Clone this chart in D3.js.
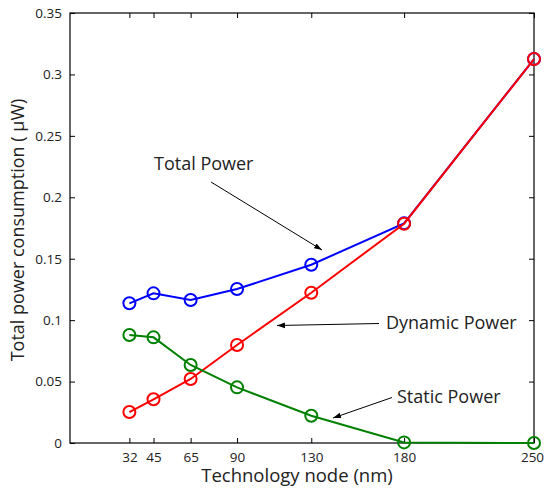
<!DOCTYPE html>
<html><head><meta charset="utf-8">
<script src="https://cdn.jsdelivr.net/npm/d3@7"></script>
<style>body{margin:0;background:#fff}svg{display:block}text{font-family:"Open Sans",sans-serif;fill:#222}</style>
</head><body><svg id="c" width="544" height="490"></svg>
<script>
const nodes = [32, 45, 65, 90, 130, 180, 250];
const totalPower = [0.1137, 0.1218, 0.1164, 0.1253, 0.1451, 0.1788, 0.3125];
const dynamicPower = [0.0252, 0.0356, 0.0521, 0.0798, 0.1223, 0.1785, 0.3125];
const staticPower = [0.0879, 0.0860, 0.0635, 0.0453, 0.0222, 0.0005, 0.0000];
const yTicks = [0, 0.05, 0.1, 0.15, 0.2, 0.25, 0.3, 0.35];
const yTickLabels = ["0", "0.05", "0.1", "0.15", "0.2", "0.25", "0.3", "0.35"];
const seriesNames = ["Total Power", "Dynamic Power", "Static Power"];
const annotations = [
  {text: "Total Power", tx: 154, ty: 170, x1: 211, y1: 182, x2: 322, y2: 250},
  {text: "Dynamic Power", tx: 386, ty: 329, x1: 379, y1: 323.5, x2: 277, y2: 325.5},
  {text: "Static Power", tx: 397, ty: 403, x1: 392, y1: 397.5, x2: 333, y2: 418}
];

const svg = d3.select("#c");
const L = 70, R = 534, T = 13, B = 443;
const x = d3.scaleLinear().domain([0, 250]).range([L, R]);
const y = d3.scaleLinear().domain([0, 0.35]).range([B, T]);

svg.append("defs").append("marker").attr("id", "ah")
  .attr("viewBox", "0 0 10 10").attr("refX", 10).attr("refY", 5)
  .attr("markerWidth", 8).attr("markerHeight", 8).attr("markerUnits", "userSpaceOnUse")
  .attr("orient", "auto")
  .append("path").attr("d", "M0,1.5L10,5L0,8.5Z").attr("fill", "#000");

// box
svg.append("rect").attr("x", L).attr("y", T).attr("width", R - L).attr("height", B - T)
  .attr("fill", "none").attr("stroke", "#000").attr("stroke-width", 1.2);

const tl = 5;
const xb = d3.axisBottom(x).tickValues(nodes).tickSizeInner(-tl).tickSizeOuter(0).tickPadding(9);
const gx = svg.append("g").attr("transform", `translate(0,${B})`).call(xb);
const xt = d3.axisTop(x).tickValues(nodes).tickSizeInner(-tl).tickSizeOuter(0).tickFormat("");
const gxt = svg.append("g").attr("transform", `translate(0,${T})`).call(xt);
const yl = d3.axisLeft(y).tickValues(yTicks).tickFormat((d, i) => yTickLabels[i]).tickSizeInner(-tl).tickSizeOuter(0).tickPadding(8);
const gy = svg.append("g").attr("transform", `translate(${L},0)`).call(yl);
const yr = d3.axisRight(y).tickValues(yTicks).tickSizeInner(-tl).tickSizeOuter(0).tickFormat("");
const gyr = svg.append("g").attr("transform", `translate(${R},0)`).call(yr);
[gx, gxt, gy, gyr].forEach(g => {
  g.select(".domain").remove();
  g.selectAll(".tick line").attr("stroke", "#000").attr("stroke-width", 1);
  g.selectAll(".tick text").style("font-size", "13.5px").style("font-family", '"Open Sans",sans-serif').attr("fill", "#222");
});
gx.selectAll(".tick text").attr("dy", "0.71em").attr("dx", d => d === 250 ? -2 : 0);

const series = [
  {vals: totalPower, color: "#0000ff"},
  {vals: dynamicPower, color: "#ff0000"},
  {vals: staticPower, color: "#008000"}
];
const line = d3.line().x(d => x(d[0])).y(d => y(d[1]));
series.forEach(s => {
  const pts = nodes.map((n, i) => [n, s.vals[i]]);
  svg.append("path").datum(pts).attr("d", line).attr("fill", "none")
    .attr("stroke", s.color).attr("stroke-width", 2);
  svg.append("g").selectAll("circle").data(pts).join("circle")
    .attr("cx", d => x(d[0])).attr("cy", d => y(d[1])).attr("r", 6)
    .attr("fill", "none").attr("stroke", s.color).attr("stroke-width", 2);
});

annotations.forEach(a => {
  svg.append("line").attr("x1", a.x1).attr("y1", a.y1).attr("x2", a.x2).attr("y2", a.y2)
    .attr("stroke", "#000").attr("stroke-width", 1).attr("marker-end", "url(#ah)");
  svg.append("text").attr("x", a.tx).attr("y", a.ty).style("font-size", "18px").attr("fill", "#111").text(a.text);
});

svg.append("text").attr("x", 297).attr("y", 482).attr("text-anchor", "middle")
  .style("font-size", "18.5px").text("Technology node (nm)");
svg.append("text").attr("transform", `translate(24,230) rotate(-90)`)
  .attr("text-anchor", "middle").style("font-size", "18px").text("Total power consumption ( μW)");
</script></body></html>
